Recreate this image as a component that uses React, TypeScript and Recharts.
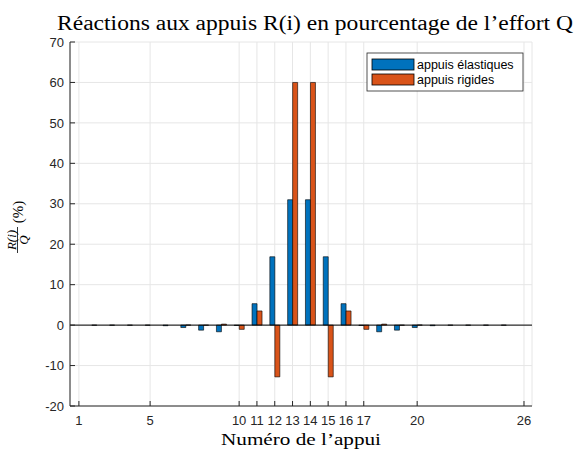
import React from 'react';
import { BarChart, Bar, XAxis, YAxis, CartesianGrid, ReferenceLine } from 'recharts';

const supports = [1, 2, 3, 4, 5, 6, 7, 8, 9, 10, 11, 12, 13, 14, 15, 16, 17, 18, 19, 20, 21, 22, 23, 24, 25, 26];
const elastic = [0, -0.03, -0.03, -0.03, -0.03, -0.15, -0.6, -1.25, -1.65, -0.1, 5.3, 16.9, 31, 31, 16.9, 5.3, -0.1, -1.65, -1.25, -0.6, -0.15, -0.03, -0.03, -0.03, -0.03, 0];
const rigid = [0, 0, 0, 0, 0, 0, 0.03, -0.03, 0.25, -1.05, 3.5, -12.8, 60, 60, -12.8, 3.5, -1.05, 0.25, -0.03, 0.03, 0, 0, 0, 0, 0, 0];
const xTicks = [1, 5, 10, 11, 12, 13, 14, 15, 16, 17, 20, 26];
const yTicks = [-20, -10, 0, 10, 20, 30, 40, 50, 60, 70];
const seriesNames = ['appuis élastiques', 'appuis rigides'];
const title = 'Réactions aux appuis R(i) en pourcentage de l’effort Q';
const xLabel = 'Numéro de l’appui';

const data = supports.map((x, i) => ({ x, elastic: elastic[i], rigid: rigid[i] }));

const BLUE = '#0072BD';
const ORANGE = '#D95319';
const AXIS = '#262626';
const tickStyle = { fontFamily: '"Liberation Sans", Arial, sans-serif', fontSize: 13, fill: AXIS };
const serif = '"Liberation Serif", "DejaVu Serif", serif';

export default function App() {
  return (
    <div style={{ position: 'absolute', left: 0, top: 0, width: 575, height: 450, background: '#fff' }}>
      <BarChart
        width={575}
        height={450}
        data={data}
        margin={{ top: 42, right: 43, left: 20, bottom: 14 }}
        barSize={5}
        barGap={0}
      >
        <CartesianGrid stroke="#e6e6e6" strokeWidth={1} />
        <XAxis
          xAxisId={0}
          dataKey="x"
          type="number"
          domain={[0.5, 26.45]}
          ticks={xTicks}
          interval={0}
          allowDataOverflow
          height={30}
          stroke={AXIS}
          tickSize={-5}
          tickMargin={15}
          tick={tickStyle}
        />
        <XAxis
          xAxisId="top"
          orientation="top"
          dataKey="x"
          type="number"
          domain={[0.5, 26.45]}
          ticks={xTicks}
          interval={0}
          allowDataOverflow
          height={0}
          stroke={AXIS}
          tickSize={-5}
          tickFormatter={() => ''}
        />
        <YAxis
          yAxisId={0}
          type="number"
          domain={[-20, 70]}
          ticks={yTicks}
          interval={0}
          allowDataOverflow
          width={50}
          stroke={AXIS}
          tickSize={-5}
          tickMargin={11}
          tick={tickStyle}
        />
        <YAxis
          yAxisId="right"
          orientation="right"
          type="number"
          domain={[-20, 70]}
          ticks={yTicks}
          interval={0}
          allowDataOverflow
          width={0}
          stroke={AXIS}
          tickSize={-5}
          tickFormatter={() => ''}
        />
        <ReferenceLine y={0} stroke="#000" strokeWidth={1} />
        <Bar dataKey="elastic" name={seriesNames[0]} fill={BLUE} stroke="#000" strokeWidth={0.6} isAnimationActive={false} />
        <Bar dataKey="rigid" name={seriesNames[1]} fill={ORANGE} stroke="#000" strokeWidth={0.6} isAnimationActive={false} />
      </BarChart>
      <svg
        width={575}
        height={450}
        style={{ position: 'absolute', left: 0, top: 0, pointerEvents: 'none' }}
      >
        <text
          x={57}
          y={30}
          textLength={516}
          lengthAdjust="spacingAndGlyphs"
          style={{ fontFamily: serif, fontSize: 20, fill: '#000' }}
        >
          {title}
        </text>
        <text
          x={301}
          y={445}
          textAnchor="middle"
          textLength={160}
          lengthAdjust="spacingAndGlyphs"
          style={{ fontFamily: serif, fontSize: 17, fill: '#000' }}
        >
          {xLabel}
        </text>
        <g transform="translate(18, 240) rotate(-90)">
          <text x={0} y={-2.5} textAnchor="middle" style={{ fontFamily: serif, fontStyle: 'italic', fontSize: 13, fill: '#000' }}>
            R(i)
          </text>
          <line x1={-13} x2={13} y1={-0.5} y2={-0.5} stroke="#000" strokeWidth={0.8} />
          <text x={0} y={10} textAnchor="middle" style={{ fontFamily: serif, fontStyle: 'italic', fontSize: 13, fill: '#000' }}>
            Q
          </text>
          <text x={28} y={5} textAnchor="middle" style={{ fontFamily: serif, fontSize: 15, fill: '#000' }}>
            (%)
          </text>
        </g>
        <g>
          <rect x={367} y={53} width={156} height={38} fill="#fff" stroke={AXIS} strokeWidth={0.8} />
          <rect x={372} y={59} width={42} height={11} fill={BLUE} stroke="#000" strokeWidth={0.8} />
          <rect x={372} y={74} width={42} height={11} fill={ORANGE} stroke="#000" strokeWidth={0.8} />
          <text x={417} y={69} style={{ fontFamily: '"Liberation Sans", Arial, sans-serif', fontSize: 12.5, fill: '#000' }}>
            {seriesNames[0]}
          </text>
          <text x={417} y={84} style={{ fontFamily: '"Liberation Sans", Arial, sans-serif', fontSize: 12.5, fill: '#000' }}>
            {seriesNames[1]}
          </text>
        </g>
      </svg>
    </div>
  );
}
